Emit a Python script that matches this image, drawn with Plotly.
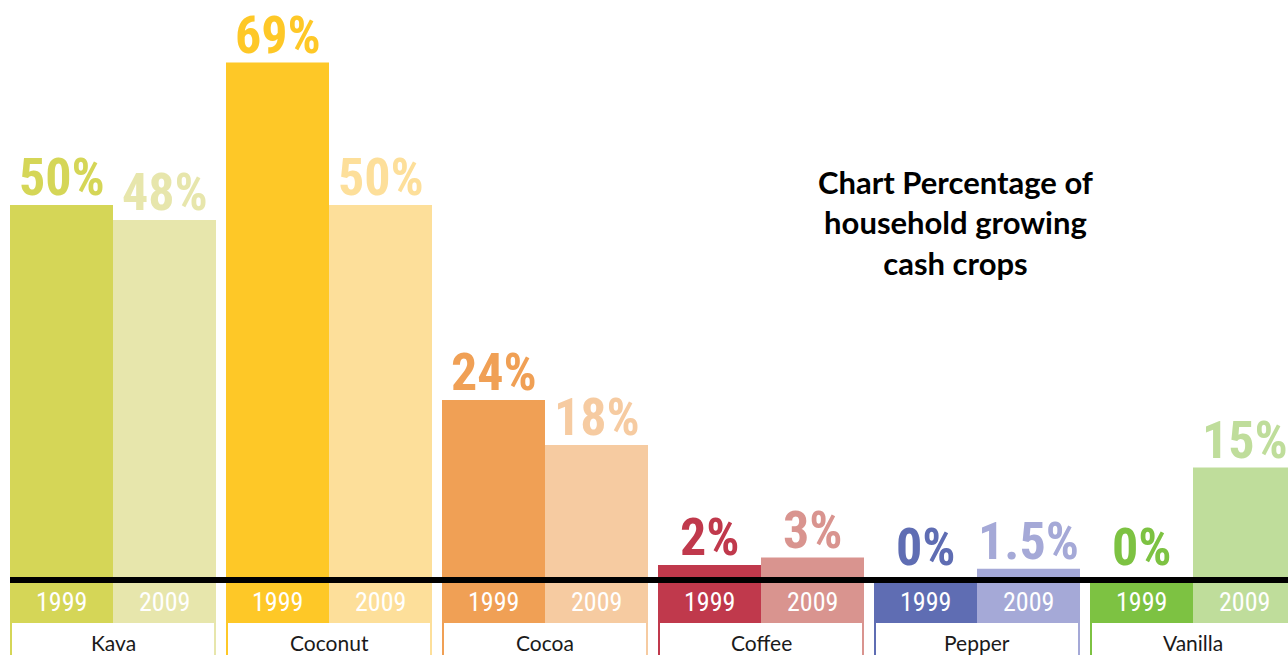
import plotly.graph_objects as go

categories = ["Kava", "Coconut", "Cocoa", "Coffee", "Pepper", "Vanilla"]
years = ["1999", "2009"]
values_1999 = [50, 69, 24, 2, 0, 0]
values_2009 = [48, 50, 18, 3, 1.5, 15]
colors_1999 = ["#d5d657", "#fec827", "#f0a055", "#c0394c", "#5f6db3", "#7dc242"]
colors_2009 = ["#e7e6ac", "#fddf9a", "#f6cba1", "#d9948f", "#a5a9d7", "#bfdd9b"]
title_text = "Chart Percentage of<br>household growing<br>cash crops"

W, H = 1288, 655
PX = 7.5             # pixels per percentage point
BASE_PX = 580        # baseline pixel row
group_px = 216
gap_px = 10
bar_px = (group_px - gap_px) / 2
y_top = BASE_PX / PX
y_bot = -(H - BASE_PX) / PX
box_depth = 43 / PX
half = (group_px - gap_px) / group_px / 2
x_lo = -(gap_px + bar_px) / group_px
x_hi = x_lo + W / group_px

num_font = "Roboto Condensed, Open Sans Condensed, sans-serif"

fig = go.Figure()
idx = list(range(len(categories)))
# year-box bars (run from below the chart up to the baseline)
for cols, og in [(colors_1999, "a"), (colors_2009, "b")]:
    fig.add_trace(go.Bar(x=idx, y=[-y_bot + 5] * len(idx), base=[y_bot - 5] * len(idx),
                         marker=dict(color=cols, line=dict(width=0)),
                         offsetgroup=og, hoverinfo="skip", showlegend=False))
# value bars
for vals, cols, og, yr in [(values_1999, colors_1999, "a", years[0]), (values_2009, colors_2009, "b", years[1])]:
    fig.add_trace(go.Bar(x=idx, y=vals, name=yr, marker=dict(color=cols, line=dict(width=0)),
                         offsetgroup=og, showlegend=False))

shapes = []
annotations = []
for i, cat in enumerate(categories):
    inset = 2 / group_px
    shapes.append(dict(type="rect", xref="x", yref="y", x0=i - half + inset, x1=i + half - inset,
                       y0=y_bot - 5, y1=-box_depth, fillcolor="white", line=dict(width=0), layer="above"))
    annotations.append(dict(x=i, y=-(642 - BASE_PX) / PX, xref="x", yref="y", text=cat, showarrow=False,
                            font=dict(family="Lato, Noto Sans, sans-serif", size=21, color="#1a1a1a"),
                            yanchor="middle"))
    for vals, cols, yr, sh in [(values_1999, colors_1999, years[0], -bar_px / 2),
                               (values_2009, colors_2009, years[1], bar_px / 2)]:
        v = vals[i]
        lab = f"{v:g}%"
        annotations.append(dict(x=i, y=v, xref="x", yref="y", text=lab, showarrow=False, xshift=sh,
                                yanchor="bottom", yshift=(-5 if v > 0 else 0),
                                font=dict(family=num_font, size=52, color=cols[i], weight="bold")))
        annotations.append(dict(x=i, y=-box_depth / 2 - 0.1, xref="x", yref="y", text=yr, showarrow=False,
                                xshift=sh, yanchor="middle",
                                font=dict(family=num_font, size=26, color="white", weight=400)))

shapes.append(dict(type="line", xref="x", yref="y", x0=-half, x1=x_hi + 1, y0=0, y1=0,
                   line=dict(color="black", width=6), layer="above"))

annotations.append(dict(x=955 / W, y=1 - 222 / H, xref="paper", yref="paper", text=title_text,
                        showarrow=False, align="center", xanchor="center", yanchor="middle",
                        font=dict(family="Lato, Noto Sans, sans-serif", size=31, color="black", weight="bold")))

fig.update_layout(
    width=W, height=H,
    margin=dict(l=0, r=0, t=0, b=0),
    paper_bgcolor="white", plot_bgcolor="white",
    barmode="group", bargap=gap_px / group_px, bargroupgap=0,
    xaxis=dict(range=[x_lo, x_hi], visible=False, fixedrange=True),
    yaxis=dict(range=[y_bot, y_top], visible=False, fixedrange=True),
    shapes=shapes, annotations=annotations, showlegend=False,
)
fig.write_html("out.html", config={"displayModeBar": False},
               post_script="document.body.style.margin='0';")
